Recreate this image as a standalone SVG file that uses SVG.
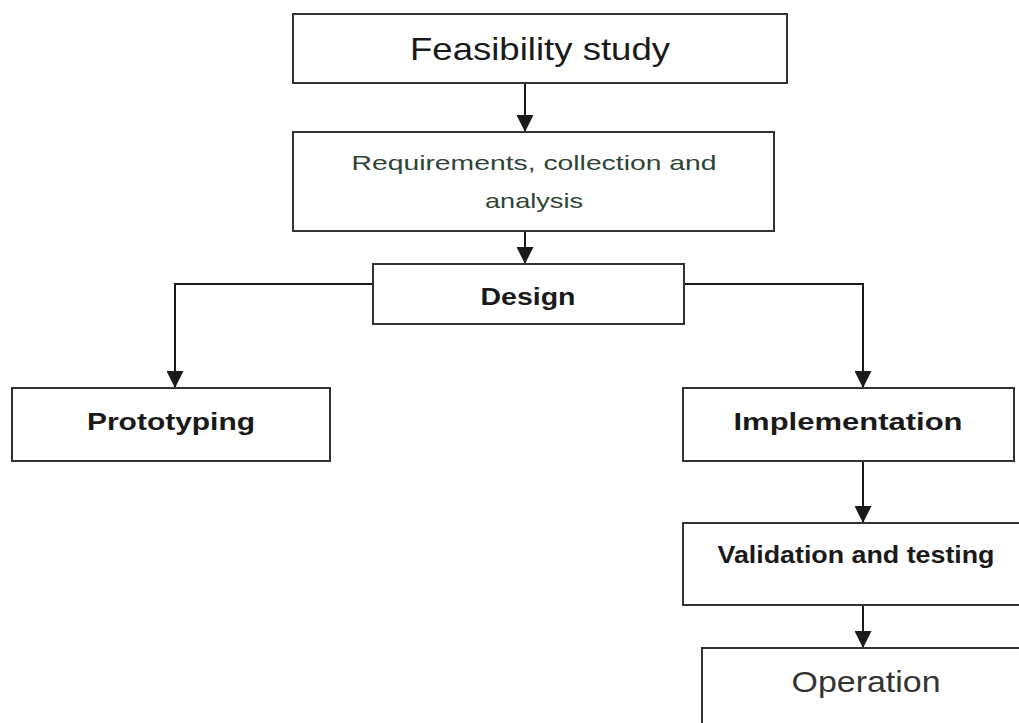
<svg xmlns="http://www.w3.org/2000/svg" width="1019" height="723" viewBox="0 0 1019 723">
<style>
.box{fill:#ffffff;stroke:#333333;stroke-width:2}
.t{font-family:"Liberation Sans",Arial,sans-serif;text-anchor:middle;fill:#1a1a1a}
.b{font-weight:bold;font-size:24px}
.c{fill:none;stroke:#1a1a1a;stroke-width:2}
</style>
<defs>
<marker id="ah" viewBox="0 0 10 10" refX="10" refY="5" markerWidth="19" markerHeight="17" markerUnits="userSpaceOnUse" orient="auto">
<path d="M0,0 L10,5 L0,10 z" fill="#1a1a1a"/>
</marker>
</defs>
<rect width="1019" height="723" fill="#ffffff"/>
<g id="connectors">
<line class="c" x1="525" y1="83" x2="525" y2="132" marker-end="url(#ah)"/>
<line class="c" x1="525" y1="231" x2="525" y2="264" marker-end="url(#ah)"/>
<polyline class="c" points="373,284 175,284 175,388" marker-end="url(#ah)"/>
<polyline class="c" points="684,284 863,284 863,388" marker-end="url(#ah)"/>
<line class="c" x1="863" y1="461" x2="863" y2="523" marker-end="url(#ah)"/>
<line class="c" x1="863" y1="605" x2="863" y2="648" marker-end="url(#ah)"/>
</g>
<g id="feasibility">
<rect class="box" x="293" y="14" width="494" height="69"/>
<text class="t" x="540" y="60" font-size="32" textLength="260" lengthAdjust="spacingAndGlyphs">Feasibility study</text>
</g>
<g id="requirements">
<rect class="box" x="293" y="132" width="481" height="99"/>
<text class="t" x="534" y="170" font-size="21" style="fill:#2e4436" textLength="365" lengthAdjust="spacingAndGlyphs">Requirements, collection and</text>
<text class="t" x="534" y="208" font-size="21" style="fill:#2e4436" textLength="98" lengthAdjust="spacingAndGlyphs">analysis</text>
</g>
<g id="design">
<rect class="box" x="373" y="264" width="311" height="60"/>
<text class="t b" x="528" y="305" textLength="95" lengthAdjust="spacingAndGlyphs">Design</text>
</g>
<g id="prototyping">
<rect class="box" x="12" y="388" width="318" height="73"/>
<text class="t b" x="171" y="430" textLength="168" lengthAdjust="spacingAndGlyphs">Prototyping</text>
</g>
<g id="implementation">
<rect class="box" x="683" y="388" width="331" height="73"/>
<text class="t b" x="848" y="430" textLength="229" lengthAdjust="spacingAndGlyphs">Implementation</text>
</g>
<g id="validation">
<rect class="box" x="683" y="523" width="345" height="82"/>
<text class="t b" x="856" y="563" font-size="22" textLength="277" lengthAdjust="spacingAndGlyphs">Validation and testing</text>
</g>
<g id="operation">
<rect class="box" x="702" y="648" width="330" height="90"/>
<text class="t" x="866" y="692" font-size="29" style="fill:#333333" textLength="149" lengthAdjust="spacingAndGlyphs">Operation</text>
</g>
</svg>
